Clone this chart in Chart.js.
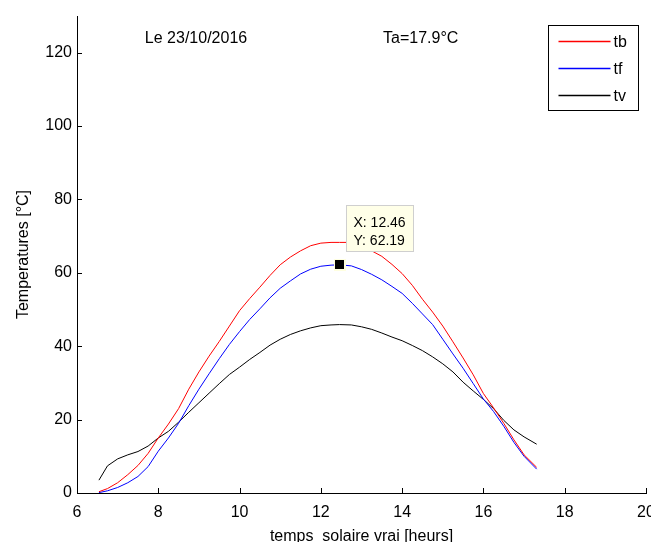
<!DOCTYPE html>
<html><head><meta charset="utf-8">
<script src="https://cdn.jsdelivr.net/npm/chart.js@4"></script>
<style>html,body{margin:0;padding:0;background:#fff;}canvas{display:block;}</style>
</head><body>
<canvas id="c" width="651" height="542"></canvas>
<script>
const hours = [6.54, 6.75, 7.0, 7.25, 7.5, 7.75, 8.0, 8.25, 8.5, 8.75, 9.0, 9.25, 9.5, 9.75, 10.0, 10.25, 10.5, 10.75, 11.0, 11.25, 11.5, 11.75, 12.0, 12.25, 12.46, 12.75, 13.0, 13.25, 13.5, 13.75, 14.0, 14.25, 14.5, 14.75, 15.0, 15.25, 15.5, 15.75, 16.0, 16.25, 16.5, 16.75, 17.0, 17.31];
const tb = [0.35, 1.2, 2.8, 5.0, 7.5, 10.8, 15.0, 18.8, 23.0, 28.3, 33.0, 37.3, 41.3, 45.5, 49.7, 53.0, 56.1, 59.3, 62.2, 64.3, 66.0, 67.4, 68.1, 68.3, 68.3, 68.3, 67.5, 66.0, 64.5, 62.3, 59.8, 56.6, 52.8, 49.3, 45.5, 41.2, 36.8, 32.2, 27.1, 23.2, 19.0, 14.5, 10.4, 7.0];
const tf = [0.1, 0.6, 1.5, 2.8, 4.5, 7.2, 11.4, 15.0, 19.0, 23.8, 28.3, 32.5, 36.6, 40.5, 44.0, 47.3, 50.2, 53.2, 55.8, 57.8, 59.7, 61.0, 61.8, 62.1, 62.19, 61.9, 60.9, 59.6, 58.1, 56.3, 54.4, 51.7, 48.8, 45.9, 41.9, 37.9, 34.0, 29.8, 25.6, 22.2, 18.2, 13.8, 10.0, 6.5];
const tv = [3.5, 7.4, 9.3, 10.4, 11.3, 12.8, 15.0, 16.8, 19.3, 22.0, 24.6, 27.2, 29.8, 32.3, 34.3, 36.4, 38.3, 40.3, 41.9, 43.2, 44.2, 45.0, 45.6, 45.8, 45.9, 45.8, 45.3, 44.6, 43.6, 42.5, 41.5, 40.2, 38.8, 37.1, 35.2, 33.0, 30.2, 27.8, 25.5, 23.0, 19.8, 17.2, 15.3, 13.3];
const seriesNames = ['tb', 'tf', 'tv'];
const seriesColors = ['#ff0000', '#0000ff', '#000000'];
const dataTip = {x: 12.46, y: 62.19};
const dateText = 'Le 23/10/2016';
const ambientText = 'Ta=17.9°C';
const textPosY = 123.9;
const dateTextX = 7.67;
const ambientTextX = 13.53;

const FONT = "'Liberation Sans', Arial, sans-serif";
const series = [tb, tf, tv];

const overlay = {
  id: 'overlay',
  afterDraw(chart) {
    const {ctx, chartArea: a, scales: {x, y}} = chart;
    ctx.save();
    // inward ticks
    ctx.strokeStyle = '#000'; ctx.lineWidth = 1;
    ctx.beginPath();
    x.ticks.forEach(t => { const px = Math.round(x.getPixelForValue(t.value)) + 0.5; ctx.moveTo(px, a.bottom); ctx.lineTo(px, a.bottom - 5); });
    y.ticks.forEach(t => { const py = Math.round(y.getPixelForValue(t.value)) + 0.5; ctx.moveTo(a.left, py); ctx.lineTo(a.left + 5, py); });
    ctx.stroke();
    // annotations
    ctx.fillStyle = '#000'; ctx.font = '16px ' + FONT; ctx.textBaseline = 'middle'; ctx.textAlign = 'left';
    ctx.fillText(dateText, x.getPixelForValue(dateTextX), y.getPixelForValue(textPosY));
    ctx.fillText(ambientText, x.getPixelForValue(ambientTextX), y.getPixelForValue(textPosY));
    // legend
    const lw = 90, lh = 85;
    const lx = Math.round(a.right - 98) + 0.5, ly = Math.round(a.top + 9) + 0.5;
    ctx.fillStyle = '#fff'; ctx.fillRect(lx, ly, lw, lh);
    ctx.strokeStyle = '#000'; ctx.lineWidth = 1; ctx.strokeRect(lx, ly, lw, lh);
    seriesNames.forEach((name, i) => {
      const yy = Math.round(ly + 15 + i * 27) + 0.5;
      ctx.beginPath();
      ctx.strokeStyle = seriesColors[i];
      ctx.lineWidth = 1.5;
      ctx.moveTo(lx + 10, yy); ctx.lineTo(lx + 62, yy);
      ctx.stroke();
      ctx.fillStyle = '#000'; ctx.font = '16px ' + FONT; ctx.textBaseline = 'middle';
      ctx.fillText(name, lx + 65, yy + 1);
    });
    ctx.lineWidth = 1;
    // data tip
    const mx = x.getPixelForValue(dataTip.x), my = y.getPixelForValue(dataTip.y);
    ctx.fillStyle = '#ffffe0'; ctx.fillRect(Math.round(mx - 6), Math.round(my - 6), 12, 12);
    ctx.fillStyle = '#000'; ctx.fillRect(Math.round(mx - 4.5), Math.round(my - 4.5), 9, 9);
    const bx = Math.round(mx + 6) + 0.5, by = Math.round(my - 60) + 0.5;
    ctx.fillStyle = '#ffffe8'; ctx.fillRect(bx, by, 67, 46);
    ctx.strokeStyle = '#cfcfcf'; ctx.strokeRect(bx, by, 67, 46);
    ctx.fillStyle = '#000'; ctx.font = '14px ' + FONT; ctx.textBaseline = 'middle';
    ctx.fillText('X: ' + dataTip.x.toFixed(2), bx + 7, by + 18);
    ctx.fillText('Y: ' + dataTip.y.toFixed(2), bx + 7, by + 36);
    ctx.restore();
  }
};

new Chart(document.getElementById('c'), {
  type: 'line',
  data: {
    datasets: series.map((s, i) => ({
      label: seriesNames[i],
      data: hours.map((h, j) => ({x: h, y: s[j]})),
      borderColor: seriesColors[i],
      borderWidth: 1,
      pointRadius: 0,
      tension: 0,
      fill: false
    }))
  },
  options: {
    responsive: false,
    animation: false,
    layout: {padding: {top: 16, right: 5, left: 0, bottom: 0}},
    plugins: {legend: {display: false}, tooltip: {enabled: false}},
    scales: {
      x: {
        type: 'linear', min: 6, max: 20,
        ticks: {stepSize: 2, color: '#000', font: {family: FONT, size: 16}, padding: 10, maxRotation: 0},
        grid: {display: false, drawTicks: false},
        border: {display: true, color: '#000', width: 1},
        title: {display: true, text: 'temps  solaire vrai [heurs]', color: '#000', font: {family: FONT, size: 16}, padding: {top: 0, bottom: -4}},
        afterFit(s) { s.height = 49; s.paddingLeft = 0; s.paddingRight = 0; }
      },
      y: {
        type: 'linear', min: 0, max: 130,
        ticks: {stepSize: 20, includeBounds: false, color: '#000', font: {family: FONT, size: 16}, padding: 5},
        grid: {display: false, drawTicks: false},
        border: {display: true, color: '#000', width: 1},
        title: {display: true, text: 'Temperatures [°C]', color: '#000', font: {family: FONT, size: 16}, padding: {top: 14, bottom: 0}},
        afterFit(s) { s.width = 77; s.paddingTop = 0; s.paddingBottom = 0; }
      }
    }
  },
  plugins: [overlay]
});
</script>
</body></html>
